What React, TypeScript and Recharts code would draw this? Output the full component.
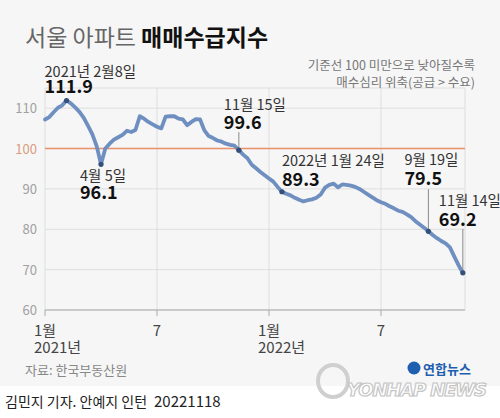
import React from "react";
import {
  LineChart,
  Line,
  XAxis,
  YAxis,
  CartesianGrid,
  ReferenceLine,
  ReferenceDot,
} from "recharts";

// weekly index from the first Monday of 2021 (0 = 2021-01-04)
const seoulIndex = [
  107.2, 107.8, 109.0, 110.1, 110.7, 111.9, 111.2, 110.2, 109.1, 107.6,
  105.6, 103.5, 100.6, 96.1, 100.0, 101.2, 102.2, 102.8, 103.4, 104.4,
  104.1, 104.6, 108.0, 107.4, 106.6, 106.0, 105.4, 105.0, 107.9, 108.0,
  108.0, 107.4, 107.2, 105.8, 106.6, 107.3, 107.2, 104.5, 103.1, 102.6,
  102.0, 101.7, 101.2, 100.9, 100.7, 99.6, 98.5, 97.6, 96.0, 95.1,
  94.2, 93.4, 92.6, 91.8, 90.5, 89.3, 88.8, 88.4, 87.8, 87.3,
  86.9, 87.2, 87.4, 87.8, 88.6, 90.3, 91.0, 91.3, 90.4, 91.1,
  91.0, 90.8, 90.5, 90.0, 89.3, 88.6, 87.9, 87.2, 86.7, 86.3,
  85.7, 85.2, 84.6, 84.3, 83.7, 83.0, 82.0, 81.2, 80.4, 79.5,
  78.6, 77.8, 77.1, 76.5, 75.5, 73.3, 71.1, 69.2,
];

const xTicks = [0, 26, 52, 78];
const xTickLabels = ["1월", "7", "1월", "7"];
const xYearLabels = ["2021년", "", "2022년", ""];
const yTicks = [60, 70, 80, 90, 100, 110];

const noteWeeks = [5, 13, 45, 55, 89, 97];
const noteDates = [
  "2021년 2월8일",
  "4월 5일",
  "11월 15일",
  "2022년 1월 24일",
  "9월 19일",
  "11월 14일",
];

const data = seoulIndex.map((v, i) => ({ week: i, value: v }));

const FONT = "'Noto Sans CJK KR', 'Noto Sans', sans-serif";

// offsets of each callout relative to its dot
const calloutStyle = [
  { dx: -22, dateDy: -24, valueDy: -8, leader: 0 },
  { dx: -21, dateDy: 17, valueDy: 35, leader: 0 },
  { dx: -15, dateDy: -40, valueDy: -21, leader: -18 },
  { dx: 0, dateDy: -26, valueDy: -6, leader: 0 },
  { dx: -24, dateDy: -66, valueDy: -46, leader: -42 },
  { dx: -24, dateDy: -67, valueDy: -47, leader: -44 },
];

const makeCallout = (k: number) => (props: any) => {
  const { cx, cy } = props;
  const s = calloutStyle[k];
  return (
    <g>
      {s.leader !== 0 && (
        <line x1={cx} x2={cx} y1={cy + s.leader} y2={cy} stroke="#888" strokeWidth={1} />
      )}
      <circle cx={cx} cy={cy} r={2.6} fill="#34507a" />
      <text x={cx + s.dx} y={cy + s.dateDy} fontSize={14.5} fill="#333" fontFamily={FONT}>
        {noteDates[k]}
      </text>
      <text
        x={cx + s.dx}
        y={cy + s.valueDy}
        fontSize={18}
        fontWeight={700}
        fill="#111"
        fontFamily={FONT}
      >
        {seoulIndex[noteWeeks[k]].toFixed(1)}
      </text>
    </g>
  );
};

const XTick = (props: any) => {
  const { x, y, payload } = props;
  const idx = xTicks.indexOf(payload.value);
  return (
    <g fontFamily={FONT} fontSize={15} fill="#444">
      <text x={x} y={y + 18} textAnchor="middle">
        {xTickLabels[idx]}
      </text>
      {xYearLabels[idx] && (
        <text x={x - 11} y={y + 35} textAnchor="start">
          {xYearLabels[idx]}
        </text>
      )}
    </g>
  );
};

const YTick = (props: any) => {
  const { y, payload } = props;
  return (
    <text
      x={37}
      y={y + 5}
      textAnchor="end"
      fontSize={13}
      fontFamily={FONT}
      fill={payload.value === 100 ? "#d99c80" : "#a0a0a0"}
    >
      {payload.value}
    </text>
  );
};

const App = () => {
  return (
    <div
      style={{
        position: "absolute",
        left: 0,
        top: 0,
        width: 500,
        height: 418,
        background: "linear-gradient(#f6f6f6 0px, #f6f6f6 386px, #ffffff 386px)",
        fontFamily: FONT,
      }}
    >
      <LineChart
        width={500}
        height={418}
        data={data}
        margin={{ top: 88, right: 35, bottom: 68, left: 0 }}
      >
        <CartesianGrid stroke="#dedede" strokeWidth={1} />
        <XAxis
          dataKey="week"
          type="number"
          domain={[0, 97.5]}
          ticks={xTicks}
          height={40}
          axisLine={{ stroke: "#aaa" }}
          tickLine={{ stroke: "#aaa" }}
          tickSize={6}
          tick={<XTick />}
          interval={0}
        />
        <YAxis
          domain={[60, 115]}
          ticks={yTicks}
          width={45}
          axisLine={false}
          tickLine={false}
          tick={<YTick />}
          interval={0}
        />
        <ReferenceLine y={100} stroke="#e8916a" strokeWidth={1.5} />
        <Line
          dataKey="value"
          type="linear"
          stroke="#6f8fc0"
          strokeWidth={3.8}
          strokeLinejoin="round"
          strokeLinecap="round"
          dot={false}
          activeDot={false}
          isAnimationActive={false}
        />
        {noteWeeks.map((w, k) => (
          <ReferenceDot key={w} x={w} y={seoulIndex[w]} r={2.6} shape={makeCallout(k)} />
        ))}
      </LineChart>

      <svg
        width={500}
        height={418}
        style={{ position: "absolute", left: 0, top: 0, pointerEvents: "none" }}
        fontFamily={FONT}
      >
        <text x={25} y={46} fontSize={23}>
          <tspan fill="#666">서울 아파트 </tspan>
          <tspan fill="#111" fontWeight={700}>
            매매수급지수
          </tspan>
        </text>
        <text x={475} y={70} fontSize={12.5} fill="#777" textAnchor="end">
          기준선 100 미만으로 낮아질수록
        </text>
        <text x={475} y={87} fontSize={12.5} fill="#777" textAnchor="end">
          매수심리 위축(공급 &gt; 수요)
        </text>
        <text x={25} y={375} fontSize={13} fill="#888">
          자료: 한국부동산원
        </text>
        <text x={5} y={407} fontSize={14} fill="#222">
          김민지 기자. 안예지 인턴
        </text>
        <text x={154} y={407} fontSize={15} fill="#222">
          20221118
        </text>
        <ellipse cx={333} cy={381} rx={15} ry={16} fill="none" stroke="#cfcfcf" strokeWidth={4} />
        <text
          x={347}
          y={396}
          fontSize={18}
          fontWeight={900}
          fontStyle="italic"
          fill="#ffffff"
          stroke="#c4c4c4"
          strokeWidth={1.2}
          textLength={140}
          fontFamily="'DejaVu Sans', sans-serif"
        >
          YONHAP NEWS
        </text>
        <circle cx={414} cy={368} r={6.5} fill="#1f5fb0" />
        <text x={423} y={374} fontSize={13} fontWeight={700} fill="#1f5fb0">
          연합뉴스
        </text>
      </svg>
    </div>
  );
};

export default App;
